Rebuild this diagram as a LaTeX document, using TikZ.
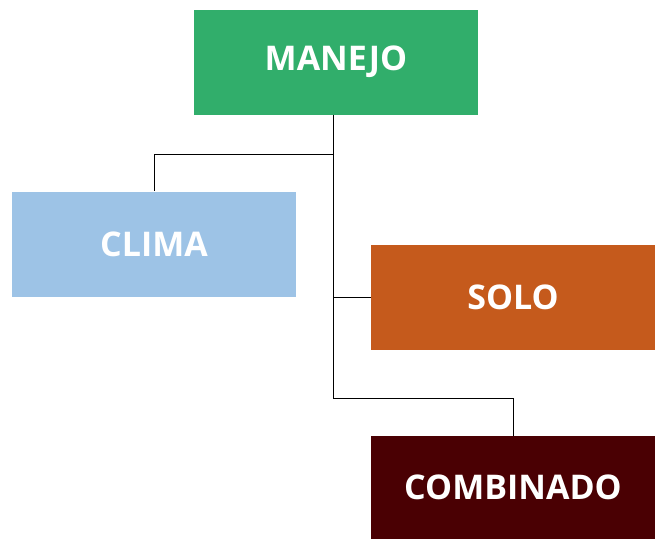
\documentclass[tikz,border=0pt]{standalone}
\usepackage{fontspec}
\setmainfont{Open Sans}
\definecolor{cgreen}{HTML}{31AE6B}
\definecolor{cblue}{HTML}{9DC3E6}
\definecolor{corange}{HTML}{C55A1C}
\definecolor{cdark}{HTML}{4A0003}
\tikzset{
  boxnode/.style={minimum width=284pt, minimum height=105pt, inner sep=0pt, text=white,
    font=\fontsize{34}{40}\selectfont\bfseries},
  link/.style={draw=black, line width=1pt}
}
\begin{document}
\begin{tikzpicture}[x=1pt,y=-1pt]
\useasboundingbox (0,0) rectangle (660,538);
\node[boxnode, fill=cgreen] (manejo) at (336,62) {MANEJO};
\node[boxnode, fill=cblue] (clima) at (154,244) {CLIMA};
\node[boxnode, fill=corange] (solo) at (513,297) {SOLO};
\node[boxnode, fill=cdark, minimum height=103pt] (comb) at (513,487.5) {COMBINADO};
\coordinate (j1) at (333,154);
\coordinate (j2) at (333,398);
\draw[link] (manejo.south -| j1) -- (j1) -| (clima.north);
\draw[link] (j1) |- (solo.west);
\draw[link] (j1) -- (j2) -| (comb.north);
\end{tikzpicture}
\end{document}
